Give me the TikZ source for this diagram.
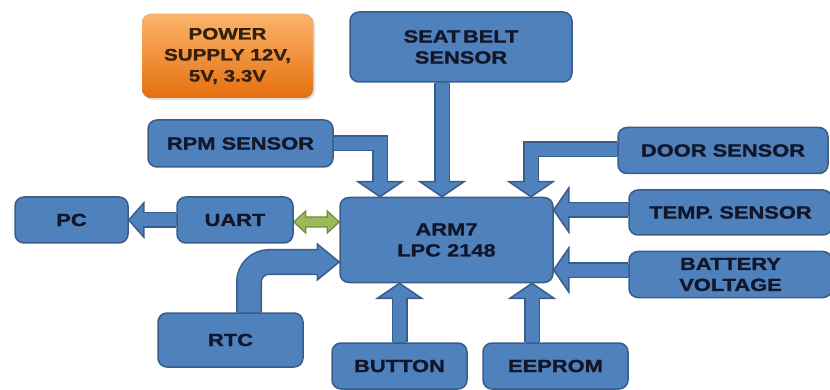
\documentclass[tikz,border=0pt]{standalone}
\usepackage{fontspec}
\newfontfamily\lab{Liberation Sans}[FakeStretch=1.25,FakeBold=1.3]
\usetikzlibrary{calc,shadows}
\definecolor{bfill}{HTML}{4F81BD}
\definecolor{bline}{HTML}{385D8A}
\definecolor{txt}{HTML}{121629}
\definecolor{gfill}{HTML}{9BBB59}
\definecolor{gline}{HTML}{71893F}
\definecolor{otop}{HTML}{FBB46C}
\definecolor{obot}{HTML}{E56F0E}
\definecolor{otxt}{HTML}{33200E}
\pgfdeclarelayer{bg}
\pgfsetlayers{bg,main}
\tikzset{
  box/.style={draw=bline, line width=1.5pt, fill=bfill, rounded corners=9pt,
    text=txt, font=\lab\bfseries\fontsize{17.5}{21}\selectfont, align=center, inner sep=0pt},
  shout/.style={draw=bline, line width=16pt, line join=miter},
  shin/.style={draw=bfill, line width=13pt, line join=miter},
  headst/.style={fill=bfill, draw=bline, line width=1.5pt, line join=miter},
  grn/.style={fill=gfill, draw=gline, line width=1.2pt, line join=miter},
}
% tip, angle, length, half width
\newcommand\bhead[4]{\begin{scope}[shift={(#1)},rotate=#2]
  \filldraw[headst] (0,0) -- (-#3,#4) -- (-#3,-#4) -- cycle;\end{scope}}
\begin{document}
\begin{tikzpicture}[x=1pt,y=-1pt]
\useasboundingbox (0,0) rectangle (830,390);
% boxes
\node[box, draw=none, top color=otop, bottom color=obot, text=otxt,
  drop shadow={opacity=0.25, shadow xshift=2pt, shadow yshift=-2pt},
  font=\lab\bfseries\fontsize{16.5}{21}\selectfont,
  minimum width=171pt, minimum height=84pt] (pwr) at (227.5,56) {POWER\\SUPPLY 12V,\\5V, 3.3V};
\node[box, minimum width=222pt, minimum height=70pt] (seat) at (461,47) {SEAT\hspace{0.15em}BELT\\SENSOR};
\node[box, minimum width=185pt, minimum height=47pt] (rpm) at (240.5,143.5) {RPM SENSOR};
\node[box, minimum width=210pt, minimum height=46pt] (door) at (723,150.5) {DOOR SENSOR};
\node[box, minimum width=203pt, minimum height=45pt] (temp) at (730.5,212.5) {TEMP. SENSOR};
\node[box, minimum width=203pt, minimum height=46pt] (batt) at (730.5,274.5) {BATTERY\\VOLTAGE};
\node[box, minimum width=213pt, minimum height=85pt] (arm) at (446.5,240) {ARM7\\LPC 2148};
\node[box, minimum width=113pt, minimum height=46pt] (pc) at (71.5,220) {PC};
\node[box, minimum width=116pt, minimum height=46pt] (uart) at (235,220) {UART};
\node[box, minimum width=145pt, minimum height=54pt] (rtc) at (230.5,340) {RTC};
\node[box, minimum width=135pt, minimum height=46pt] (button) at (399.5,366) {BUTTON};
\node[box, minimum width=145pt, minimum height=46pt] (eeprom) at (555.5,366) {EEPROM};
% arrows
\begin{pgfonlayer}{bg}
% RPM -> ARM
\coordinate (t1) at (380,0 |- arm.north);
\draw[shout] (rpm.east) -- (380,0 |- rpm.east) -- ($(t1)+(0,-15)$);
\bhead{t1}{-90}{15}{22}
\draw[shin] ([xshift=-4pt]rpm.east) -- (380,0 |- rpm.east) -- ($(t1)+(0,-13)$);
% SEAT -> ARM
\coordinate (t2) at (442,0 |- arm.north);
\draw[shout] (442,0 |- seat.south) -- ($(t2)+(0,-15)$);
\bhead{t2}{-90}{15}{22}
\draw[shin] ($(442,0 |- seat.south)+(0,-4)$) -- ($(t2)+(0,-13)$);
% DOOR -> ARM
\coordinate (t3) at (531,0 |- arm.north);
\coordinate (ds) at ([yshift=1pt]door.west);
\draw[shout] (ds) -- (531,0 |- ds) -- ($(t3)+(0,-15)$);
\bhead{t3}{-90}{15}{22}
\draw[shin] ($(ds)+(4,0)$) -- (531,0 |- ds) -- ($(t3)+(0,-13)$);
% TEMP -> ARM
\coordinate (t4) at (arm.east |- 0,210);
\draw[shout] (temp.west |- t4) -- ($(t4)+(15,0)$);
\bhead{t4}{180}{15}{22}
\draw[shin] ($(temp.west |- t4)+(4,0)$) -- ($(t4)+(13,0)$);
% BATT -> ARM
\coordinate (t5) at (arm.east |- 0,270);
\draw[shout] (batt.west |- t5) -- ($(t5)+(15,0)$);
\bhead{t5}{180}{15}{22}
\draw[shin] ($(batt.west |- t5)+(4,0)$) -- ($(t5)+(13,0)$);
% BUTTON -> ARM
\coordinate (t6) at (button.north |- arm.south);
\draw[shout] (button.north) -- ($(t6)+(0,15)$);
\bhead{t6}{90}{15}{22}
\draw[shin] ([yshift=-4pt]button.north) -- ($(t6)+(0,13)$);
% EEPROM -> ARM
\coordinate (t7) at (532,0 |- arm.south);
\draw[shout] (532,0 |- eeprom.north) -- ($(t7)+(0,15)$);
\bhead{t7}{90}{15}{22}
\draw[shin] ($(532,0 |- eeprom.north)+(0,4)$) -- ($(t7)+(0,13)$);
% UART -> PC
\coordinate (t8) at (pc.east);
\draw[shout] (uart.west) -- ($(t8)+(15,0)$);
\bhead{t8}{180}{15}{17}
\draw[shin] ([xshift=4pt]uart.west) -- ($(t8)+(13,0)$);
% RTC -> ARM (curved)
\coordinate (t9) at (arm.west |- 0,262);
\draw[draw=bline, line width=26pt, rounded corners=20pt] (249,0 |- rtc.north) -- (249,262) -- ($(t9)+(-22,0)$);
\bhead{t9}{0}{22}{18}
\draw[draw=bfill, line width=23pt, rounded corners=20pt] ($(249,0 |- rtc.north)+(0,4)$) -- (249,262) -- ($(t9)+(-20,0)$);
% UART <-> ARM (green)
\coordinate (ga) at ([yshift=-2pt]uart.east);
\coordinate (gb) at (arm.west |- ga);
\filldraw[grn] (ga) -- ($(ga)+(12,-11)$) -- ($(ga)+(12,-5)$) -- ($(gb)+(-12,-5)$) -- ($(gb)+(-12,-11)$)
  -- (gb) -- ($(gb)+(-12,11)$) -- ($(gb)+(-12,5)$) -- ($(ga)+(12,5)$) -- ($(ga)+(12,11)$) -- cycle;
\end{pgfonlayer}
\end{tikzpicture}
\end{document}
